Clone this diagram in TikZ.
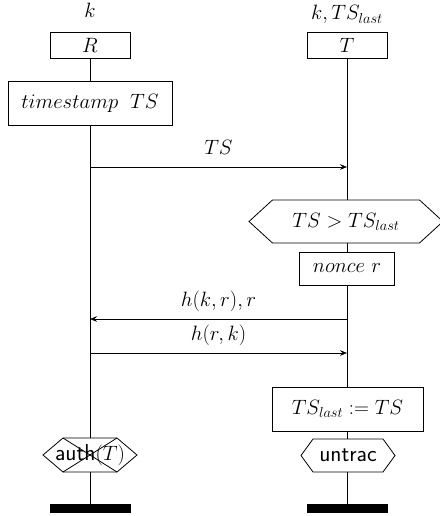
\documentclass[tikz,border=0pt]{standalone}
\usetikzlibrary{calc,arrows.meta}
\pgfdeclarelayer{bg}
\pgfdeclarelayer{mid}
\pgfsetlayers{bg,mid,main}
% #1 node, #2 half inner width, #3 half height, #4 tip offset
\newcommand{\hexat}[4]{%
  \draw[fill=white] ($(#1.center)+(-#2-#4,0)$) -- ($(#1.center)+(-#2,-#3)$)
    -- ($(#1.center)+(#2,-#3)$) -- ($(#1.center)+(#2+#4,0)$)
    -- ($(#1.center)+(#2,#3)$) -- ($(#1.center)+(-#2,#3)$) -- cycle;}
\newcommand{\sflabel}[1]{{\fontsize{23}{27}\selectfont\textsf{#1}}}
\begin{document}
\begin{tikzpicture}[x=1pt,y=-1pt,line width=0.8pt,
  every node/.style={font=\fontsize{20.5}{25}\selectfont,inner sep=0pt},
  box/.style={draw,fill=white},
  endbar/.style={fill=black,minimum width=81,minimum height=9},
  msg/.style={-{Stealth[length=7pt,width=5.5pt,inset=2.5pt]}},
  lab/.style={midway,anchor=base,yshift=12.5pt}]
\useasboundingbox (0,0) rectangle (439,516);

\node[anchor=base] (lblR) at (90,18) {$k$};
\node[anchor=base] (lblT) at (347,20) {$k,TS_{last}$};
\node[box,minimum width=80,minimum height=26] (R) at (90,45) {$R$};
\node[box,minimum width=80,minimum height=26] (T) at (347,45) {$T$};
\node[box,minimum width=164,minimum height=44] (ts) at (90,103) {$timestamp\;\ TS$};
\node (cond) at (346,221.5) {$TS > TS_{last}$};
\node[box,minimum width=95,minimum height=33] (nonce) at (347,268.5) {$nonce\ r$};
\node[box,minimum width=151,minimum height=44] (upd) at (347.5,409) {$TS_{last} := TS$};
\node (untrac) at (348,455.5) {\sflabel{untrac}};
\node (auth) at (90,455) {\sflabel{auth}$(T)$};
\node[endbar] (endR) at (90,508.5) {};
\node[endbar] (endT) at (347,508.5) {};

\begin{pgfonlayer}{bg}
\begin{scope}[line width=0.8pt]
\draw (R) -- (endR);
\draw (T) -- (endT);
\end{scope}
\end{pgfonlayer}
\begin{pgfonlayer}{mid}
\begin{scope}[line width=0.8pt]
\hexat{cond}{73.5}{21.5}{23.5}
\hexat{untrac}{35}{16.5}{12}
\hexat{auth}{27}{17}{20}
\draw ($(auth.center)+(-27,-17)$) -- ($(auth.center)+(27,17)$);
\draw ($(auth.center)+(-27,17)$) -- ($(auth.center)+(27,-17)$);
\end{scope}
\end{pgfonlayer}

\coordinate (m1a) at (90,167);
\coordinate (m1b) at (347,167);
\coordinate (m2a) at (347,319);
\coordinate (m2b) at (90,319);
\coordinate (m3a) at (90,353);
\coordinate (m3b) at (347,353);
\draw[msg] (m1a) -- node[lab] {$TS$} (m1b);
\draw[msg] (m2a) -- node[lab] {$h(k,r),r$} (m2b);
\draw[msg] (m3a) -- node[lab] {$h(r,k)$} (m3b);
\end{tikzpicture}
\end{document}
